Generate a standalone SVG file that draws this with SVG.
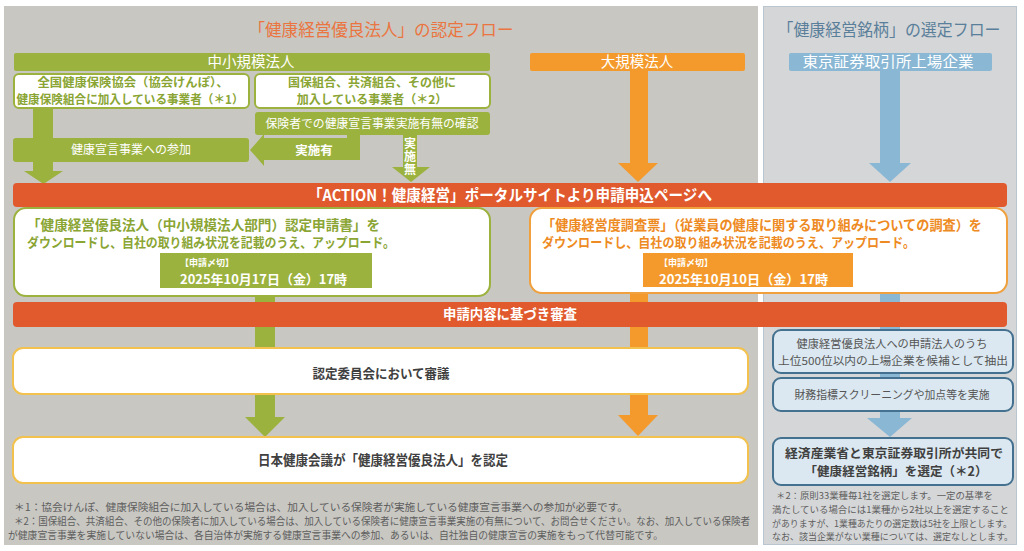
<svg xmlns="http://www.w3.org/2000/svg" width="1024" height="551" viewBox="0 0 1024 551">
<style>
text{font-family:"Noto Sans CJK JP","Noto Sans",sans-serif}
.w{fill:#ffffff}
.b{font-weight:700}
.g{fill:#9cb23e}
.gt{fill:#8aa533}
.o{fill:#f49a2c}
.ot{fill:#ee8a22}
.r{fill:#e05a2e}
.bl{fill:#89b7d4}
.dk{fill:#404040}
.ft{fill:#5e5e5e;font-size:10px}
.fr{fill:#5e5e5e;font-size:9px}
.gb{fill:#ffffff;stroke:#9cb23e;stroke-width:2}
.ob{fill:#ffffff;stroke:#f0a03c;stroke-width:2}
.yb{fill:#ffffff;stroke:#f2c14e;stroke-width:2}
.bb{fill:#dbe8f1;stroke:#44718f;stroke-width:2}
.m{text-anchor:middle}
</style>
<rect width="1024" height="551" fill="#ffffff"/>
<g id="panel-left">
<rect x="4" y="6" width="754" height="539" fill="#c8c7c2"/>
<text x="381" y="36" class="m" font-size="17" fill="#eb7540" textLength="265" lengthAdjust="spacingAndGlyphs">「健康経営優良法人」の認定フロー</text>
</g>
<g id="panel-right">
<rect x="763.5" y="6.5" width="253" height="538" fill="#d5d6d8" stroke="#b9c6d0"/>
<text x="889" y="36" class="m" font-size="16.5" fill="#5a7f9a" textLength="223" lengthAdjust="spacingAndGlyphs">「健康経営銘柄」の選定フロー</text>
</g>
<g id="connectors">
<rect x="33" y="108" width="20" height="64" class="g"/>
<polygon points="24,171 63,171 43.5,184" class="g"/>
<rect x="403" y="135" width="14" height="33" class="g"/>
<polygon points="392,167 430,167 411,182" class="g"/>
<polygon points="347,134 360,134 360,160 264,160 264,166 250,150 264,134 264,138 347,138" class="g"/>
<text x="314" y="155" class="m w b" font-size="12.5">実施有</text>
<text x="410" y="137" class="w b" font-size="12" writing-mode="vertical-rl" letter-spacing="1">実施無</text>
<rect x="630" y="71" width="18" height="93" class="o"/>
<polygon points="618,163 658,163 638,182" class="o"/>
<rect x="880" y="71" width="20" height="93" class="bl"/>
<polygon points="869,163 911,163 890,182" class="bl"/>
<rect x="255" y="296" width="20" height="122" class="g"/>
<polygon points="245,417 285,417 265,437" class="g"/>
<rect x="630" y="293" width="18" height="123" class="o"/>
<polygon points="618,415 658,415 638,436" class="o"/>
<rect x="880" y="293" width="20" height="126" class="bl"/>
<polygon points="867,418 912,418 890,437" class="bl"/>
</g>
<g id="sme-header">
<rect x="14" y="53" width="476" height="18" rx="2" class="g"/>
<text x="251" y="67" class="m w" font-size="14.5">中小規模法人</text>
</g>
<g id="large-header">
<rect x="530" y="53" width="215" height="18" rx="2" class="o"/>
<text x="637" y="67" class="m w" font-size="14.5">大規模法人</text>
</g>
<g id="tse-header">
<rect x="789" y="53" width="203" height="18" rx="2" class="bl"/>
<text x="888" y="67" class="m w" font-size="14.5" textLength="171" lengthAdjust="spacingAndGlyphs">東京証券取引所上場企業</text>
</g>
<g id="kyokai">
<rect x="14" y="74" width="235" height="34" rx="5" class="gb"/>
<text x="133" y="86.5" class="m gt b" font-size="12" textLength="191" lengthAdjust="spacingAndGlyphs">全国健康保険協会（協会けんぽ）、</text>
<text x="130" y="103.5" class="m gt b" font-size="12" textLength="227" lengthAdjust="spacingAndGlyphs">健康保険組合に加入している事業者（＊1）</text>
</g>
<g id="kokuho">
<rect x="255" y="74" width="235" height="34" rx="5" class="gb"/>
<text x="372" y="86.5" class="m gt b" font-size="12">国保組合、共済組合、その他に</text>
<text x="372" y="103.5" class="m gt b" font-size="12">加入している事業者（＊2）</text>
</g>
<g id="check">
<rect x="255" y="112" width="235" height="23" rx="3" class="g"/>
<text x="372" y="128" class="m w" font-size="12" textLength="213" lengthAdjust="spacingAndGlyphs">保険者での健康宣言事業実施有無の確認</text>
</g>
<g id="join">
<rect x="13" y="138" width="236" height="24" rx="3" class="g"/>
<text x="131" y="154" class="m w" font-size="12">健康宣言事業への参加</text>
</g>
<g id="action-bar">
<rect x="13" y="183" width="994" height="24" rx="4" class="r"/>
<text x="510" y="200.5" class="m w b" font-size="15.5" textLength="404" lengthAdjust="spacingAndGlyphs">「ACTION！健康経営」ポータルサイトより申請申込ページへ</text>
</g>
<g id="sme-apply">
<rect x="14" y="208" width="476" height="88" rx="12" class="gb"/>
<text x="27" y="229.5" class="gt b" font-size="13.5" textLength="353" lengthAdjust="spacingAndGlyphs">「健康経営優良法人（中小規模法人部門）認定申請書」を</text>
<text x="27" y="246.5" class="gt b" font-size="13" textLength="368" lengthAdjust="spacingAndGlyphs">ダウンロードし、自社の取り組み状況を記載のうえ、アップロード。</text>
<rect x="160" y="253" width="212" height="35" class="g"/>
<text x="180" y="266" class="w b" font-size="9">【申請〆切】</text>
<text x="180" y="284" class="w b" font-size="13" textLength="167" lengthAdjust="spacingAndGlyphs">2025年10月17日（金）17時</text>
</g>
<g id="large-apply">
<rect x="530" y="208" width="477" height="85" rx="12" class="ob"/>
<text x="542" y="229.5" class="ot b" font-size="13.5" textLength="440" lengthAdjust="spacingAndGlyphs">「健康経営度調査票」（従業員の健康に関する取り組みについての調査）を</text>
<text x="542" y="246.5" class="ot b" font-size="13" textLength="373" lengthAdjust="spacingAndGlyphs">ダウンロードし、自社の取り組み状況を記載のうえ、アップロード。</text>
<rect x="643" y="253" width="210" height="34" class="o"/>
<text x="659" y="266" class="w b" font-size="9">【申請〆切】</text>
<text x="659" y="283.5" class="w b" font-size="13" textLength="169" lengthAdjust="spacingAndGlyphs">2025年10月10日（金）17時</text>
</g>
<g id="review-bar">
<rect x="13" y="302" width="994" height="25" rx="4" class="r"/>
<text x="510" y="319" class="m w b" font-size="13.5" textLength="134" lengthAdjust="spacingAndGlyphs">申請内容に基づき審査</text>
</g>
<g id="committee">
<rect x="13" y="348" width="735" height="46" rx="10" class="yb"/>
<text x="381" y="378" class="m dk b" font-size="13" textLength="137" lengthAdjust="spacingAndGlyphs">認定委員会において審議</text>
</g>
<g id="certify">
<rect x="13" y="437" width="735" height="46" rx="10" class="yb"/>
<text x="383" y="465" class="m dk b" font-size="13.5" textLength="250" lengthAdjust="spacingAndGlyphs">日本健康会議が「健康経営優良法人」を認定</text>
</g>
<g id="extract">
<rect x="773" y="330" width="240" height="43" rx="8" class="bb"/>
<text x="892" y="348" class="m" fill="#555555" font-size="11" textLength="191" lengthAdjust="spacingAndGlyphs">健康経営優良法人への申請法人のうち</text>
<text x="893" y="364.5" class="m" fill="#555555" font-size="11" textLength="230" lengthAdjust="spacingAndGlyphs">上位500位以内の上場企業を候補として抽出</text>
</g>
<g id="screening">
<rect x="773" y="378" width="240" height="33" rx="8" class="bb"/>
<text x="892" y="399" class="m" fill="#555555" font-size="11.5" textLength="195" lengthAdjust="spacingAndGlyphs">財務指標スクリーニングや加点等を実施</text>
</g>
<g id="select">
<rect x="773" y="438" width="240" height="47" rx="8" class="bb"/>
<text x="894" y="457.5" class="m dk b" font-size="12.5" textLength="218" lengthAdjust="spacingAndGlyphs">経済産業省と東京証券取引所が共同で</text>
<text x="896" y="476" class="m dk b" font-size="12.5" textLength="183" lengthAdjust="spacingAndGlyphs">「健康経営銘柄」を選定（＊2）</text>
</g>
<g id="notes-left">
<text x="14" y="511" class="ft" textLength="614" lengthAdjust="spacingAndGlyphs">＊1：協会けんぽ、健康保険組合に加入している場合は、加入している保険者が実施している健康宣言事業への参加が必要です。</text>
<text x="14" y="525" class="ft" textLength="736" lengthAdjust="spacingAndGlyphs">＊2：国保組合、共済組合、その他の保険者に加入している場合は、加入している保険者に健康宣言事業実施の有無について、お問合せください。なお、加入している保険者</text>
<text x="8" y="539" class="ft" textLength="655" lengthAdjust="spacingAndGlyphs">が健康宣言事業を実施していない場合は、各自治体が実施する健康宣言事業への参加、あるいは、自社独自の健康宣言の実施をもって代替可能です。</text>
</g>
<g id="notes-right">
<text x="776" y="499" class="fr" textLength="217" lengthAdjust="spacingAndGlyphs">＊2：原則33業種毎1社を選定します。一定の基準を</text>
<text x="772" y="513" class="fr" textLength="237" lengthAdjust="spacingAndGlyphs">満たしている場合には1業種から2社以上を選定すること</text>
<text x="772" y="527" class="fr" textLength="240" lengthAdjust="spacingAndGlyphs">がありますが、1業種あたりの選定数は5社を上限とします。</text>
<text x="772" y="540" class="fr" textLength="241" lengthAdjust="spacingAndGlyphs">なお、該当企業がない業種については、選定なしとします。</text>
</g>
</svg>
